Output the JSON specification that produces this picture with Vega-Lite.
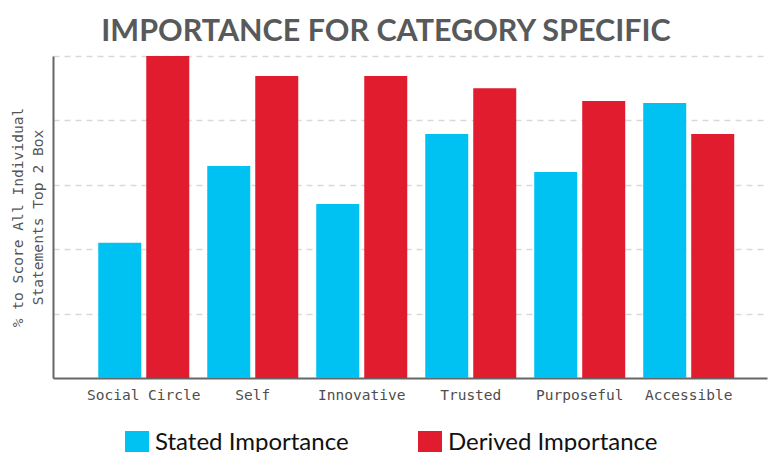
{
  "$schema": "https://vega.github.io/schema/vega-lite/v6.json",
  "width": 714,
  "height": 322,
  "autosize": {"type": "none"},
  "padding": {"left": 53, "top": 56, "right": 3, "bottom": 74},
  "background": "white",
  "title": {
    "text": "IMPORTANCE FOR CATEGORY SPECIFIC",
    "font": "Lato",
    "fontWeight": "bold",
    "fontSize": 30.5,
    "color": "#58595B",
    "anchor": "middle",
    "frame": "group",
    "baseline": "alphabetic",
    "offset": 18,
    "dy": 33,
    "dx": -24
  },
  "data": {
    "values": [
      {"category": "Social Circle", "series": "Stated Importance", "value": 2.10},
      {"category": "Social Circle", "series": "Derived Importance", "value": 5.00},
      {"category": "Self", "series": "Stated Importance", "value": 3.29},
      {"category": "Self", "series": "Derived Importance", "value": 4.69},
      {"category": "Innovative", "series": "Stated Importance", "value": 2.70},
      {"category": "Innovative", "series": "Derived Importance", "value": 4.69},
      {"category": "Trusted", "series": "Stated Importance", "value": 3.79},
      {"category": "Trusted", "series": "Derived Importance", "value": 4.50},
      {"category": "Purposeful", "series": "Stated Importance", "value": 3.20},
      {"category": "Purposeful", "series": "Derived Importance", "value": 4.30},
      {"category": "Accessible", "series": "Stated Importance", "value": 4.27},
      {"category": "Accessible", "series": "Derived Importance", "value": 3.79}
    ]
  },
  "mark": {"type": "bar"},
  "encoding": {
    "x": {
      "field": "category",
      "type": "nominal",
      "sort": ["Social Circle", "Self", "Innovative", "Trusted", "Purposeful", "Accessible"],
      "scale": {"paddingInner": 0.165, "paddingOuter": 0.358, "align": 0.58},
      "axis": {
        "title": null,
        "labelAngle": 0,
        "labelFont": "DejaVu Sans Mono",
        "labelFontSize": 14.5,
        "labelColor": "#4D4D4D",
        "labelPadding": 10,
        "ticks": false,
        "domainColor": "#666666",
        "domainWidth": 2,
        "grid": false
      }
    },
    "xOffset": {
      "field": "series",
      "type": "nominal",
      "sort": ["Stated Importance", "Derived Importance"],
      "scale": {"paddingInner": 0.104, "paddingOuter": 0}
    },
    "y": {
      "field": "value",
      "type": "quantitative",
      "scale": {"domain": [0, 5], "nice": false},
      "axis": {
        "title": ["% to Score All Individual", "Statements Top 2 Box"],
        "titleFont": "DejaVu Sans Mono",
        "titleFontSize": 14.6,
        "titleFontWeight": "normal",
        "titleColor": "#555555",
        "titleLineHeight": 20,
        "titlePadding": 8,
        "labels": false,
        "ticks": false,
        "values": [1, 2, 3, 4, 5],
        "domainColor": "#666666",
        "domainWidth": 2,
        "grid": true,
        "gridColor": "#D9D9D9",
        "gridWidth": 1.5,
        "gridDash": [6, 5]
      }
    },
    "color": {
      "field": "series",
      "type": "nominal",
      "sort": ["Stated Importance", "Derived Importance"],
      "scale": {"domain": ["Stated Importance", "Derived Importance"], "range": ["#00C2F2", "#E11C2E"]},
      "legend": {
        "title": null,
        "orient": "none",
        "direction": "horizontal",
        "legendX": 72,
        "legendY": 375,
        "symbolType": "square",
        "symbolSize": 576,
        "symbolStrokeWidth": 0,
        "symbolOpacity": 1,
        "labelFont": "Lato",
        "labelFontSize": 24,
        "labelColor": "#111111",
        "labelOffset": 6,
        "labelLimit": 400,
        "columnPadding": 69
      }
    }
  },
  "config": {
    "view": {"stroke": null}
  }
}
